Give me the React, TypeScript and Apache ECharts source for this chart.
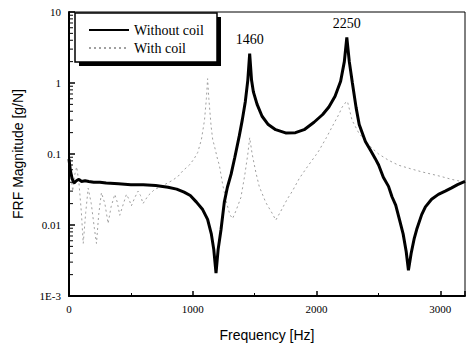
import React, { useEffect, useRef } from "react";
import * as echarts from "echarts";

// ---- data ----
const withoutCoilFreq = [0, 10, 25, 40, 60, 80, 100, 130, 160, 200, 250, 300, 400, 500, 600, 700, 800, 870, 930, 980, 1030, 1080, 1120, 1150, 1170, 1188, 1205, 1228, 1255, 1280, 1310, 1340, 1376, 1400, 1425, 1445, 1460, 1475, 1490, 1520, 1560, 1610, 1670, 1750, 1830, 1900, 1980, 2050, 2100, 2150, 2195, 2225, 2245, 2265, 2290, 2320, 2345, 2395, 2440, 2475, 2502, 2540, 2582, 2610, 2640, 2670, 2700, 2725, 2743, 2765, 2790, 2810, 2850, 2880, 2930, 2985, 3040, 3092, 3140, 3200];
const withoutCoilMag = [0.085, 0.06, 0.045, 0.039, 0.042, 0.044, 0.041, 0.042, 0.041, 0.04, 0.04, 0.039, 0.038, 0.037, 0.037, 0.036, 0.034, 0.032, 0.029, 0.026, 0.021, 0.0165, 0.012, 0.0075, 0.0045, 0.0021, 0.0045, 0.0085, 0.021, 0.034, 0.052, 0.09, 0.18, 0.3, 0.55, 1.1, 2.6, 1.1, 0.75, 0.5, 0.34, 0.26, 0.22, 0.198, 0.2, 0.22, 0.28, 0.36, 0.46, 0.65, 1.06, 2.0, 4.4, 2.0, 1.0, 0.45, 0.26, 0.15, 0.11, 0.086, 0.07, 0.047, 0.035, 0.025, 0.019, 0.012, 0.0075, 0.0042, 0.0023, 0.004, 0.0065, 0.0087, 0.014, 0.018, 0.023, 0.027, 0.03, 0.0334, 0.037, 0.041];

const withCoilFreq = [0, 15, 30, 45, 62, 80, 100, 115, 135, 155, 180, 205, 222, 240, 262, 290, 316, 340, 370, 390, 410, 440, 464, 485, 504, 530, 558, 578, 598, 640, 692, 730, 772, 830, 879, 920, 973, 1010, 1040, 1070, 1095, 1110, 1120, 1130, 1148, 1161, 1175, 1200, 1215, 1242, 1275, 1300, 1322, 1350, 1389, 1420, 1445, 1460, 1480, 1510, 1537, 1590, 1644, 1671, 1711, 1764, 1805, 1860, 1926, 1992, 2019, 2080, 2127, 2180, 2207, 2230, 2250, 2270, 2287, 2340, 2395, 2450, 2502, 2580, 2663, 2760, 2851, 2930, 3012, 3090, 3173, 3200];
const withCoilMag = [0.075, 0.05, 0.03, 0.05, 0.066, 0.04, 0.015, 0.0055, 0.015, 0.033, 0.02, 0.009, 0.0055, 0.014, 0.0285, 0.02, 0.0105, 0.018, 0.027, 0.021, 0.0137, 0.02, 0.027, 0.023, 0.0186, 0.024, 0.03, 0.026, 0.02, 0.026, 0.0317, 0.034, 0.037, 0.042, 0.048, 0.058, 0.07, 0.085, 0.105, 0.16, 0.3, 0.6, 1.15, 0.6, 0.25, 0.16, 0.13, 0.085, 0.0695, 0.037, 0.02, 0.014, 0.0123, 0.016, 0.0244, 0.05, 0.1, 0.17, 0.1, 0.055, 0.035, 0.0208, 0.0144, 0.0117, 0.0156, 0.0232, 0.03, 0.045, 0.066, 0.095, 0.111, 0.17, 0.243, 0.36, 0.457, 0.52, 0.55, 0.4, 0.3, 0.2, 0.152, 0.12, 0.1, 0.082, 0.0695, 0.062, 0.056, 0.052, 0.048, 0.044, 0.041, 0.04];

const peakLabels = ["1460", "2250"];
const peakFreqs = [1460, 2245];
const peakMags = [2.6, 4.4];

const xTickLabels = ["0", "1000", "2000", "3000"];
const yTickValues = [0.001, 0.01, 0.1, 1, 10];
const yTickLabels = ["1E-3", "0.01", "0.1", "1", "10"];
const yMinorTicks = [2, 3, 4, 5, 6, 7, 8, 9].flatMap((m) => [m * 0.001, m * 0.01, m * 0.1, m * 1]);

const serif = "'Liberation Serif', 'DejaVu Serif', serif";
const sans = "'Liberation Sans', Arial, sans-serif";

export default function App() {
  const ref = useRef<HTMLDivElement>(null);

  useEffect(() => {
    if (!ref.current) return;
    const chart = echarts.init(ref.current, undefined, { renderer: "svg" });

    const option: any = {
      animation: false,
      backgroundColor: "#fff",
      grid: { left: 69, right: 1, top: 12, bottom: 42, show: true, borderColor: "#000", borderWidth: 1 },
      xAxis: {
        type: "value",
        min: 0,
        max: 3200,
        interval: 1000,
        name: "Frequency [Hz]",
        nameLocation: "middle",
        nameGap: 32,
        nameTextStyle: { fontFamily: sans, fontSize: 14, color: "#000" },
        axisLine: { show: true, onZero: false, lineStyle: { color: "#000", width: 2 } },
        axisTick: { show: true, inside: true, length: 5, lineStyle: { color: "#000", width: 1.5 } },
        minorTick: { show: true, splitNumber: 2, length: 3, lineStyle: { color: "#000" } },
        splitLine: { show: false },
        axisLabel: {
          color: "#000",
          fontFamily: serif,
          fontSize: 11,
          margin: 7,
          showMaxLabel: false,
          formatter: (v: number) => {
            const i = Math.round(v / 1000);
            return v % 1000 === 0 && i < xTickLabels.length ? xTickLabels[i] : "";
          },
        },
      },
      yAxis: {
        type: "log",
        logBase: 10,
        min: 0.001,
        max: 10,
        name: "FRF Magnitude [g/N]",
        nameLocation: "middle",
        nameGap: 44,
        nameTextStyle: { fontFamily: sans, fontSize: 14, color: "#000" },
        axisLine: { show: true, lineStyle: { color: "#000", width: 2 } },
        axisTick: { show: true, inside: true, length: 6, lineStyle: { color: "#000", width: 1.5 } },
        splitLine: { show: false },
        axisLabel: {
          color: "#000",
          fontFamily: serif,
          fontSize: 11,
          margin: 8,
          formatter: (v: number) => {
            const e = Math.round(Math.log10(v));
            const idx = yTickValues.findIndex((t) => Math.round(Math.log10(t)) === e);
            return idx >= 0 ? yTickLabels[idx] : "";
          },
        },
      },
      legend: {
        orient: "vertical",
        left: 88,
        top: 23,
        padding: 0,
        itemWidth: 40,
        itemHeight: 14,
        itemGap: 4,
        z: 10,
        itemStyle: { opacity: 0 },
        textStyle: { fontFamily: serif, fontSize: 14, color: "#000", lineHeight: 14 },
        data: [{ name: "Without coil" }, { name: "With coil" }],
      },
      graphic: [
        { type: "rect", z: 8, shape: { x: 79, y: 17, width: 142, height: 49 }, style: { fill: "#000" } },
        { type: "rect", z: 9, shape: { x: 75, y: 13, width: 142, height: 49 }, style: { fill: "#fff", stroke: "#000", lineWidth: 1.5 } },
      ],
      series: [
        {
          name: "With coil",
          type: "line",
          symbol: "none",
          showSymbol: false,
          data: withCoilFreq.map((f, i) => [f, withCoilMag[i]]),
          lineStyle: { color: "#a0a0a0", width: 1, type: [2, 3] },
          itemStyle: { color: "#a0a0a0" },
          z: 2,
        },
        {
          name: "Without coil",
          type: "line",
          symbol: "none",
          showSymbol: false,
          data: withoutCoilFreq.map((f, i) => [f, withoutCoilMag[i]]),
          lineStyle: { color: "#000", width: 3 },
          itemStyle: { color: "#000" },
          z: 3,
          markPoint: {
            symbol: "circle",
            symbolSize: 0,
            silent: true,
            label: {
              show: true,
              position: "top",
              distance: 7,
              fontFamily: serif,
              fontSize: 14,
              color: "#000",
              formatter: (p: any) => p.name,
            },
            data: peakLabels.map((n, i) => ({ name: n, coord: [peakFreqs[i], peakMags[i]] })),
          },
        },
        {
          type: "custom",
          silent: true,
          z: 4,
          data: yMinorTicks.map((v) => [0, v]),
          renderItem: (params: any, api: any) => {
            const p = api.coord([0, api.value(1)]);
            return {
              type: "line",
              shape: { x1: p[0], y1: p[1], x2: p[0] + 4, y2: p[1] },
              style: { stroke: "#000", lineWidth: 1 },
            };
          },
        },
      ],
    };

    chart.setOption(option);
    return () => chart.dispose();
  }, []);

  return <div ref={ref} style={{ position: "fixed", left: 0, top: 0, width: 466, height: 347 }} />;
}
